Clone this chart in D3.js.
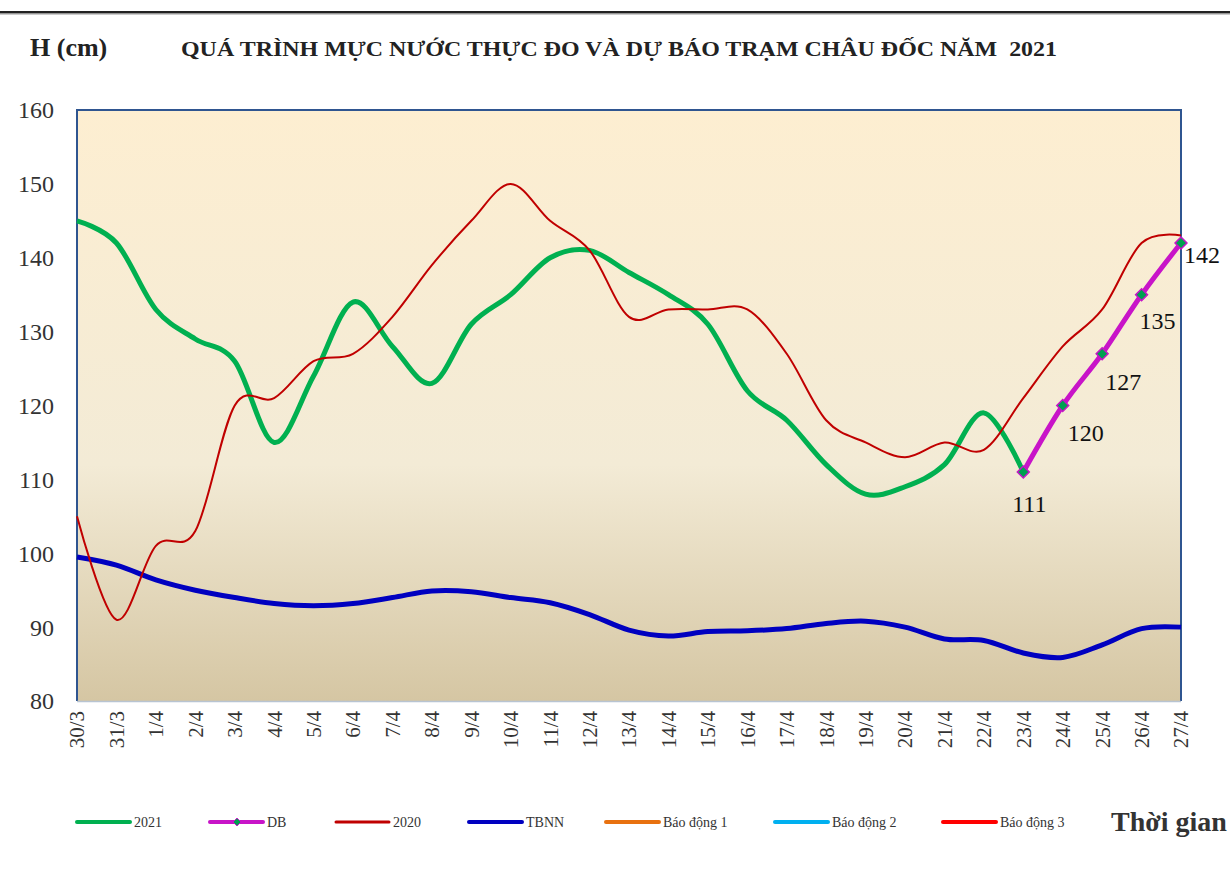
<!DOCTYPE html>
<html>
<head>
<meta charset="utf-8">
<script src="https://cdn.jsdelivr.net/npm/d3@7"></script>
<style>
  body { margin: 0; background: #fff; }
  svg { display: block; font-family: "Liberation Serif", "Times New Roman", serif; }
</style>
</head>
<body>
<div id="chart"></div>
<script>
'use strict';

// categories (days)
var days = ["30/3", "31/3", "1/4", "2/4", "3/4", "4/4", "5/4", "6/4", "7/4", "8/4", "9/4", "10/4",
    "11/4", "12/4", "13/4", "14/4", "15/4", "16/4", "17/4", "18/4", "19/4", "20/4", "21/4", "22/4",
    "23/4", "24/4", "25/4", "26/4", "27/4"];

// measured 2021 (ends on 23/4)
var h2021 = [145, 142, 133, 129, 126, 115, 124, 134, 128, 123, 131, 135, 140, 141, 138, 135, 131,
    122, 118, 112, 108, 109, 112, 119, 111];

// forecast 23/4 .. 27/4
var dbDays = ["23/4", "24/4", "25/4", "26/4", "27/4"];
var dbValues = [111, 120, 127, 135, 142];

var h2020 = [105, 91, 101, 103, 120, 121, 126, 127, 132, 139, 145, 150, 145, 141, 132, 133, 133,
    133, 127, 118, 115, 113, 115, 114, 121, 128, 133, 142, 143];

var tbnn = [99.5, 98.4, 96.4, 95, 94, 93.2, 92.9, 93.2, 94, 94.9, 94.8, 94, 93.3, 91.7, 89.6, 88.8,
    89.4, 89.5, 89.8, 90.5, 90.8, 90, 88.4, 88.2, 86.5, 85.9, 87.6, 89.8, 90];

var yTicks = [80, 90, 100, 110, 120, 130, 140, 150, 160];

var legendNames = ["2021", "DB", "2020", "TBNN", "Báo động 1", "Báo động 2", "Báo động 3"];

(function() {
    var W = 1230, H = 870;
    var left = 77, right = 1181, top = 110, bottom = 701;

    var svg = d3.select("#chart").append("svg")
        .attr("width", W).attr("height", H);

    // top rule
    svg.append("rect").attr("x", 0).attr("y", 11).attr("width", W).attr("height", 2.5).attr("fill", "#222");
    svg.append("rect").attr("x", 0).attr("y", 13.5).attr("width", W).attr("height", 1).attr("fill", "#999");

    // titles
    svg.append("text").attr("x", 30).attr("y", 56)
        .attr("font-size", 26).attr("font-weight", "bold").attr("fill", "#222")
        .text("H (cm)");
    svg.append("text").attr("x", 181).attr("y", 56)
        .attr("font-size", 21).attr("font-weight", "bold").attr("fill", "#222")
        .attr("textLength", 876).attr("lengthAdjust", "spacingAndGlyphs")
        .text("QUÁ TRÌNH MỰC NƯỚC THỰC ĐO VÀ DỰ BÁO TRẠM CHÂU ĐỐC NĂM\u00a0 2021");

    var x = d3.scalePoint().domain(days).range([left, right]);
    var y = d3.scaleLinear().domain([80, 160]).range([bottom, top]);

    // plot background
    var defs = svg.append("defs");
    var grad = defs.append("linearGradient").attr("id", "bg")
        .attr("x1", 0).attr("y1", 0).attr("x2", 0).attr("y2", 1);
    grad.append("stop").attr("offset", "0%").attr("stop-color", "#fdeed1");
    grad.append("stop").attr("offset", "60%").attr("stop-color", "#f3ebd6");
    grad.append("stop").attr("offset", "100%").attr("stop-color", "#d5c6a3");

    svg.append("rect")
        .attr("x", left).attr("y", top)
        .attr("width", right - left).attr("height", bottom - top)
        .attr("fill", "url(#bg)");

    // border: dark blue left/top/right, light bottom
    svg.append("path")
        .attr("d", "M" + left + "," + bottom + "V" + top + "H" + right + "V" + bottom)
        .attr("fill", "none").attr("stroke", "#2f5590").attr("stroke-width", 2);
    svg.append("line")
        .attr("x1", left).attr("x2", right).attr("y1", bottom + 0.5).attr("y2", bottom + 0.5)
        .attr("stroke", "#b8c4d2").attr("stroke-width", 1.5);

    // y axis labels
    svg.append("g").selectAll("text").data(yTicks).enter().append("text")
        .attr("x", 54).attr("y", function(d) { return y(d); })
        .attr("dy", "0.35em").attr("text-anchor", "end")
        .attr("font-size", 24).attr("fill", "#333")
        .text(function(d) { return d; });

    // x axis labels, rotated
    svg.append("g").selectAll("text").data(days).enter().append("text")
        .attr("transform", function(d) { return "translate(" + x(d) + ",711) rotate(-90)"; })
        .attr("dy", "0.35em").attr("text-anchor", "end")
        .attr("font-size", 21).attr("fill", "#333")
        .text(function(d) { return d; });

    var line = d3.line()
        .x(function(d) { return x(d[0]); })
        .y(function(d) { return y(d[1]); })
        .curve(d3.curveCardinal.tension(0));

    function pairs(keys, vals) {
        return vals.map(function(v, i) { return [keys[i], v]; });
    }

    var plot = svg.append("g");

    plot.append("path").datum(pairs(days, tbnn)).attr("d", line)
        .attr("fill", "none").attr("stroke", "#0000c0").attr("stroke-width", 5);
    plot.append("path").datum(pairs(days, h2021)).attr("d", line)
        .attr("fill", "none").attr("stroke", "#00b050").attr("stroke-width", 5);
    plot.append("path").datum(pairs(days, h2020)).attr("d", line)
        .attr("fill", "none").attr("stroke", "#c00000").attr("stroke-width", 2);

    var db = pairs(dbDays, dbValues);
    plot.append("path").datum(db).attr("d", line)
        .attr("fill", "none").attr("stroke", "#c814c8").attr("stroke-width", 5);

    var diamond = d3.symbol().type(d3.symbolDiamond2).size(90);
    plot.selectAll(".mk").data(db).enter().append("path")
        .attr("class", "mk")
        .attr("transform", function(d) { return "translate(" + x(d[0]) + "," + y(d[1]) + ")"; })
        .attr("d", diamond)
        .attr("fill", "#00a050").attr("stroke", "#c814c8").attr("stroke-width", 1.5);

    // data labels (nudged like the original)
    var nudge = [[6, 32], [23, 27], [21, 28], [16, 26], [21, 12]];
    plot.selectAll(".lb").data(db).enter().append("text")
        .attr("class", "lb")
        .attr("x", function(d, i) { return x(d[0]) + nudge[i][0]; })
        .attr("y", function(d, i) { return y(d[1]) + nudge[i][1]; })
        .attr("dy", "0.35em").attr("text-anchor", "middle")
        .attr("font-size", 24).attr("fill", "#111")
        .text(function(d) { return d[1]; });

    // legend
    var legendColors = ["#00b050", "#c814c8", "#c00000", "#0000c0", "#e8710f", "#00b0f0", "#ff0000"];
    var legendWidths = [4, 4, 3, 4, 4, 4, 4];
    var legendX = [77, 210, 336, 469, 606, 775, 943];
    var ly = 822;
    var lg = svg.append("g").selectAll("g").data(legendNames).enter().append("g")
        .attr("transform", function(d, i) { return "translate(" + legendX[i] + "," + ly + ")"; });
    lg.append("line").attr("x1", 0).attr("x2", 53).attr("y1", 0).attr("y2", 0)
        .attr("stroke", function(d, i) { return legendColors[i]; })
        .attr("stroke-width", function(d, i) { return legendWidths[i]; })
        .attr("stroke-linecap", "round");
    lg.filter(function(d) { return d === "DB"; }).append("path")
        .attr("transform", "translate(27,0)")
        .attr("d", d3.symbol().type(d3.symbolDiamond2).size(40))
        .attr("fill", "#00a050").attr("stroke", "#c814c8").attr("stroke-width", 1);
    lg.append("text").attr("x", 57).attr("y", 0).attr("dy", "0.35em")
        .attr("font-size", 14).attr("fill", "#333")
        .text(function(d) { return d; });

    svg.append("text").attr("x", 1111).attr("y", 831)
        .attr("font-size", 28).attr("font-weight", "bold").attr("fill", "#333")
        .text("Thời gian");
})();
</script>
</body>
</html>
